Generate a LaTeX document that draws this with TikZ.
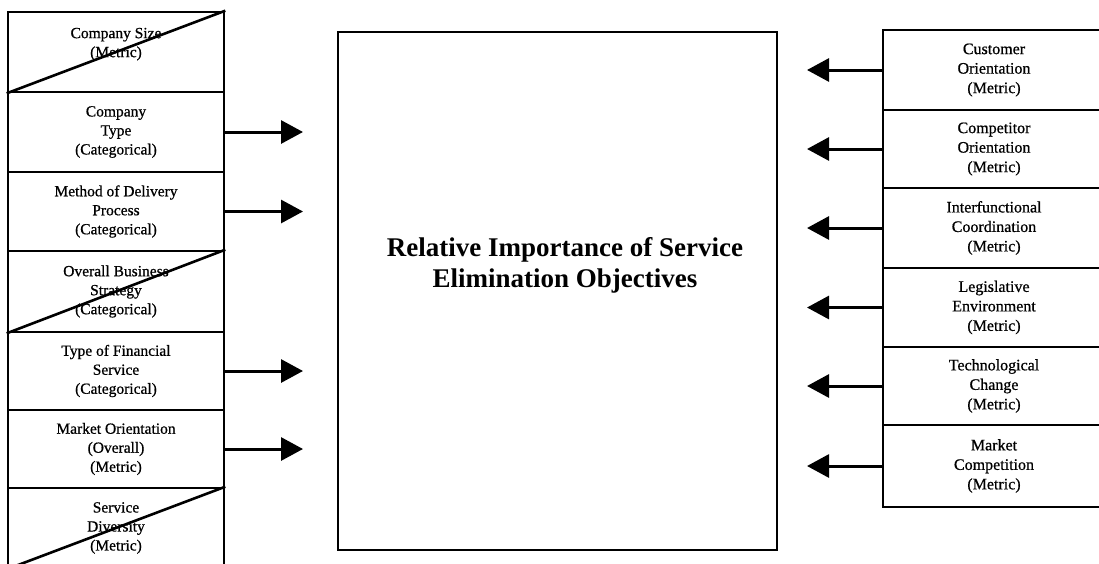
\documentclass[tikz,border=0pt]{standalone}
\usepackage{fontspec}
\setmainfont{Liberation Serif}
\newfontfamily\boxfont[FakeBold=0.7]{Liberation Serif}
\usetikzlibrary{arrows.meta}

\begin{document}
\begin{tikzpicture}[x=1pt,y=-1pt,
  frame/.style={draw, line width=2.6pt, inner sep=0pt, align=center},
  lbox/.style={frame, minimum width=216pt, font=\boxfont\fontsize{15.5}{19}\selectfont},
  rbox/.style={frame, minimum width=222pt, font=\boxfont\fontsize{16}{19.5}\selectfont},
  cross/.style={line width=2.6pt},
  link/.style={line width=3pt, -{Triangle[length=22pt,width=23pt]}}
]
\clip (0,0) rectangle (1099,563);
\fill[white] (0,0) rectangle (1099,563);

% central outcome box
\node[frame, minimum width=439pt, minimum height=518pt] (centre) at (557.5,291) {};
\node[font=\fontsize{27}{31}\selectfont\bfseries, align=center] (title) at (565,265)
  {Relative Importance of Service\\Elimination Objectives};

% left-hand factors
\node[lbox, minimum height=80pt] (b1) at (116,52)    {Company Size\\(Metric)\\~};
\node[lbox, minimum height=80pt] (b2) at (116,132)   {Company\\Type\\(Categorical)};
\node[lbox, minimum height=79pt] (b3) at (116,211.5) {Method of Delivery\\Process\\(Categorical)};
\node[lbox, minimum height=81pt] (b4) at (116,291.5) {Overall Business\\Strategy\\(Categorical)};
\node[lbox, minimum height=78pt] (b5) at (116,371)   {Type of Financial\\Service\\(Categorical)};
\node[lbox, minimum height=78pt] (b6) at (116,449)   {Market Orientation\\(Overall)\\(Metric)};
\node[lbox, minimum height=80pt] (b7) at (116,528)   {Service\\Diversity\\(Metric)};

% struck-out factors
\draw[cross] (b1.south west) -- (b1.north east);
\draw[cross] (b4.south west) -- (b4.north east);
\draw[cross] (b7.south west) -- (b7.north east);

% right-hand factors
\node[rbox, minimum height=80pt] (r1) at (994,70)    {Customer\\Orientation\\(Metric)};
\node[rbox, minimum height=78pt] (r2) at (994,149)   {Competitor\\Orientation\\(Metric)};
\node[rbox, minimum height=80pt] (r3) at (994,228)   {Interfunctional\\Coordination\\(Metric)};
\node[rbox, minimum height=79pt] (r4) at (994,307.5) {Legislative\\Environment\\(Metric)};
\node[rbox, minimum height=78pt] (r5) at (994,386)   {Technological\\Change\\(Metric)};
\node[rbox, minimum height=82pt] (r6) at (994,466)   {Market\\Competition\\(Metric)};

% arrow tip columns
\coordinate (tipL) at (303,0);
\coordinate (tipR) at (807,0);

% influence arrows
\foreach \b in {b2,b3,b5,b6}
  \draw[link] (\b.east) -- (\b.east -| tipL);
\foreach \r in {r1,r2,r3,r4,r5,r6}
  \draw[link] (\r.west) -- (\r.west -| tipR);
\end{tikzpicture}
\end{document}
